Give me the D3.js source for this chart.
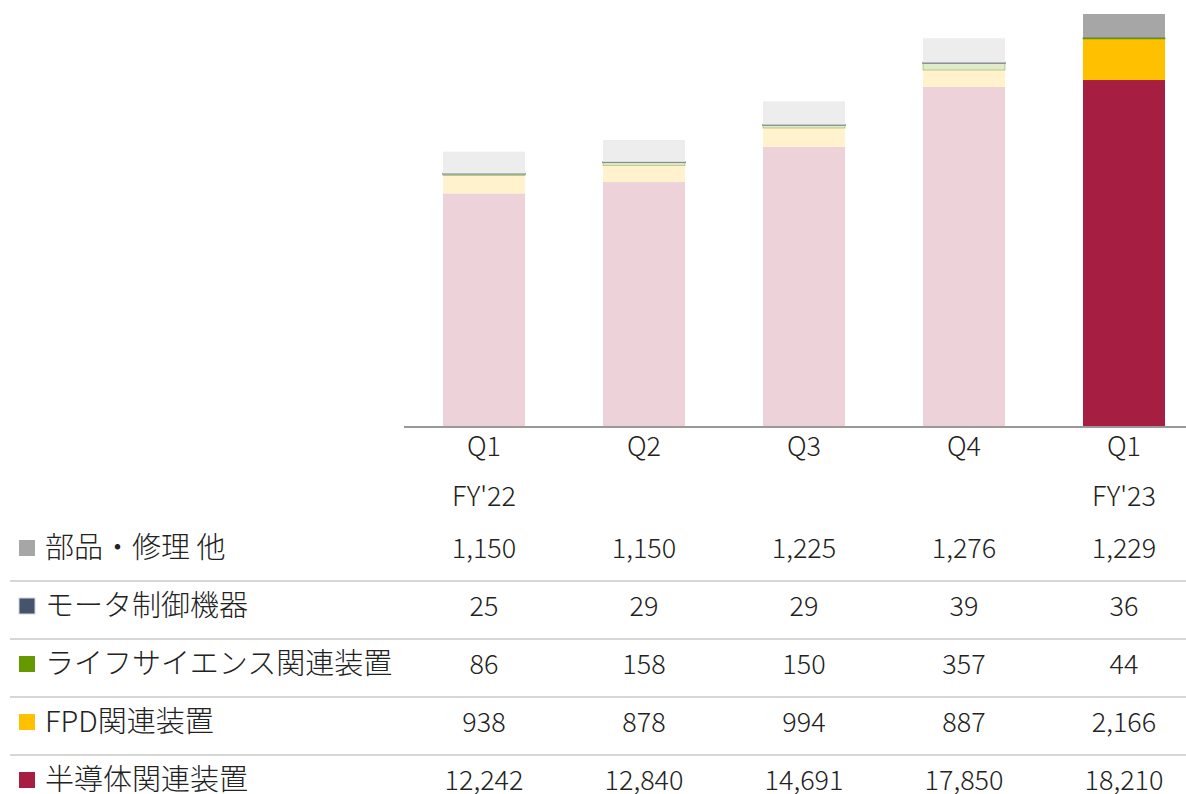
<!DOCTYPE html>
<html>
<head>
<meta charset="utf-8">
<script src="https://cdn.jsdelivr.net/npm/d3@7"></script>
<style>
  body { margin: 0; background: #fff; }
  text { font-family: "Noto Sans CJK JP", "Noto Sans", sans-serif; font-weight: 300; fill: #222; }
</style>
</head>
<body>
<div id="chart"></div>
<script>
// DATA
const quarters = ["Q1", "Q2", "Q3", "Q4", "Q1b"];
const quarterLabels = ["Q1", "Q2", "Q3", "Q4", "Q1"];
const yearLabels = ["FY'22", "", "", "", "FY'23"];
const segments = ["semi", "fpd", "life", "motor", "parts"];
const segmentNames = ["半導体関連装置", "FPD関連装置", "ライフサイエンス関連装置", "モータ制御機器", "部品・修理 他"];
const segmentColors = ["#A61E42", "#FFC000", "#669900", "#44546A", "#A6A6A6"];
const semi = [12242, 12840, 14691, 17850, 18210];
const fpd = [938, 878, 994, 887, 2166];
const life = [86, 158, 150, 357, 44];
const motor = [25, 29, 29, 39, 36];
const parts = [1150, 1150, 1225, 1276, 1229];
const highlight = "Q1b";

const WIDTH = 1186, HEIGHT = 794;
const series = { semi, fpd, life, motor, parts };

const table = quarters.map((q, i) => {
  const row = { q };
  segments.forEach((s) => (row[s] = series[s][i]));
  return row;
});

const svg = d3.select("#chart").append("svg")
  .attr("width", WIDTH).attr("height", HEIGHT);

// SCALE
const x = d3.scaleBand()
  .domain(quarters)
  .range([404, 1204])
  .paddingInner(0.4875)
  .paddingOuter(0.24375);

const maxTotal = d3.max(table, (d) => d3.sum(segments, (s) => d[s]));
const y = d3.scaleLinear().domain([0, maxTotal]).range([426, 14]);

const stack = d3.stack().keys(segments)(table);
const color = d3.scaleOrdinal().domain(segments).range(segmentColors);

// BARS
const layers = svg.append("g").selectAll("g")
  .data(stack)
  .join("g");

layers.selectAll("rect")
  .data((layer) => layer.map((d) => ({ key: layer.key, d })))
  .join("rect")
  .attr("x", (e) => x(e.d.data.q))
  .attr("width", x.bandwidth())
  .attr("y", (e) => y(e.d[1]))
  .attr("height", (e) => y(e.d[0]) - y(e.d[1]))
  .attr("fill", (e) => {
    const c = d3.color(color(e.key)).formatHex();
    if (e.d.data.q === highlight) return c;
    return d3.interpolateRgb("#ffffff", c)(0.2); // faded past quarters
  })
  .attr("stroke", (e) => {
    if (e.key === "motor") return e.d.data.q === highlight ? "none" : "#868c93";
    if (e.key === "life") return e.d.data.q === highlight ? "#669900" : "rgba(102,153,0,0.5)";
    return "none";
  })
  .attr("stroke-width", (e) => (e.key === "motor" ? 1.4 : 0.8));

// AXIS
svg.append("g")
  .attr("transform", `translate(0, ${y(0) + 1})`)
  .call(d3.axisBottom(x).tickSize(0).tickFormat(() => ""))
  .call((g) => g.select(".domain").attr("d", `M404,0H${WIDTH}`).attr("stroke", "#999").attr("stroke-width", 2));

svg.append("g").selectAll("text")
  .data(quarters)
  .join("text")
  .attr("x", (q) => x(q) + x.bandwidth() / 2)
  .attr("y", 447)
  .attr("dy", "0.35em")
  .attr("text-anchor", "middle")
  .attr("font-size", 27)
  .text((q, i) => quarterLabels[i]);

svg.append("g").selectAll("text")
  .data(quarters)
  .join("text")
  .attr("x", (q) => x(q) + x.bandwidth() / 2)
  .attr("y", 497)
  .attr("dy", "0.35em")
  .attr("text-anchor", "middle")
  .attr("font-size", 27)
  .text((q, i) => yearLabels[i]);

// TABLE
const rowOrder = segments.slice().reverse();
const rowY = d3.scalePoint().domain(rowOrder).range([548, 780]);
const fmt = d3.format(",");

rowOrder.forEach((s, r) => {
  const cy = rowY(s);
  if (r > 0) {
    svg.append("line")
      .attr("x1", 10).attr("x2", WIDTH)
      .attr("y1", cy - 25).attr("y2", cy - 25)
      .attr("stroke", "#d6d6d6").attr("stroke-width", 2);
  }
  svg.append("rect")
    .attr("x", 19).attr("y", cy - 8)
    .attr("width", 16).attr("height", 16)
    .attr("fill", color(s))
    .attr("stroke", s === "motor" ? "#d0d4da" : "none");
  svg.append("text")
    .attr("x", 45).attr("y", cy)
    .attr("dy", "0.36em")
    .attr("font-size", 29)
    .text(segmentNames[segments.indexOf(s)]);
  svg.append("g").selectAll("text")
    .data(table)
    .join("text")
    .attr("x", (d) => x(d.q) + x.bandwidth() / 2)
    .attr("y", cy)
    .attr("dy", "0.36em")
    .attr("text-anchor", "middle")
    .attr("font-size", 27)
    .text((d) => fmt(d[s]));
});
</script>
</body>
</html>
